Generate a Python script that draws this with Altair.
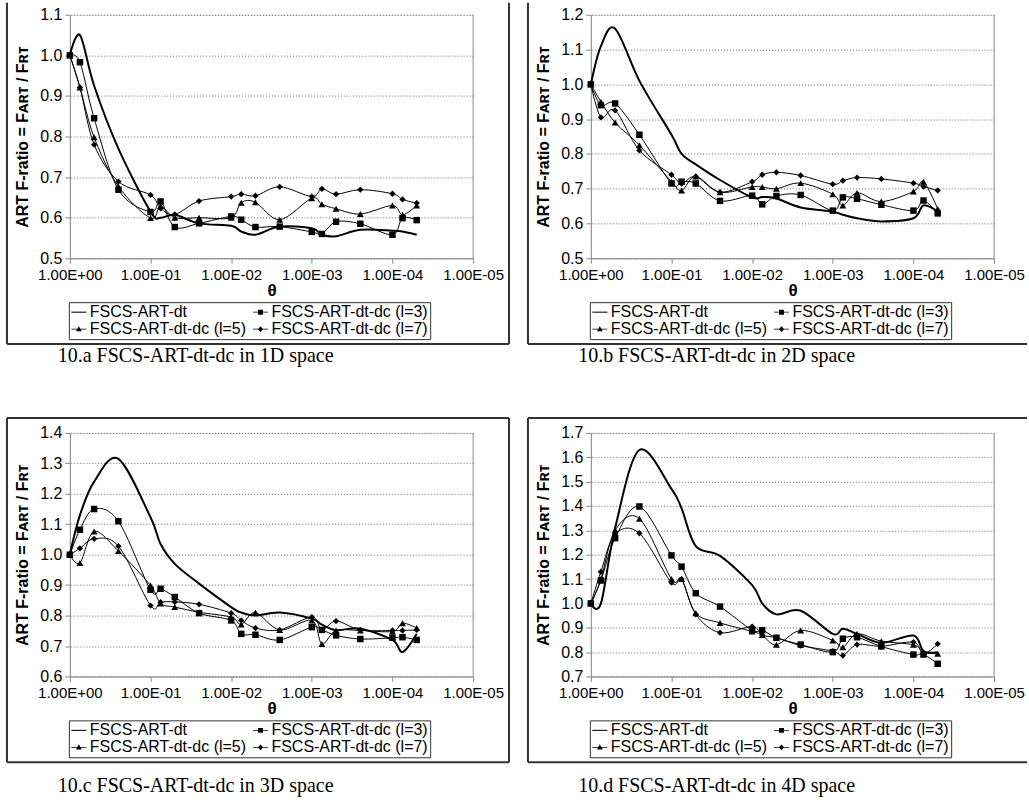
import altair as alt
import pandas as pd

FONT = "Liberation Sans"
SERIF = "Liberation Serif"

THETA = [1, 0.75, 0.5, 0.25, 0.1, 0.075, 0.05, 0.025, 0.01, 0.0075, 0.005,
         0.0025, 0.001, 0.00075, 0.0005, 0.00025, 0.0001, 0.000075, 0.00005]
SERIES = ["FSCS-ART-dt", "FSCS-ART-dt-dc (l=3)", "FSCS-ART-dt-dc (l=5)", "FSCS-ART-dt-dc (l=7)"]
X_TICKS = [1, 0.1, 0.01, 0.001, 0.0001, 0.00001]
X_TICK_LABELS = ["1.00E+00", "1.00E-01", "1.00E-02", "1.00E-03", "1.00E-04", "1.00E-05"]
Y_TITLE = "ART F-ratio = Fᴀʀᴛ / Fʀᴛ"
X_TITLE = "θ"

# 10.a  1D
A_DT = [1.0, 1.05, 0.925, 0.77, 0.615, 0.60, 0.607, 0.586, 0.58, 0.566, 0.558, 0.578, 0.574, 0.558, 0.554, 0.57, 0.568, 0.566, 0.558]
A_L3 = [1.0, 0.983, 0.845, 0.669, 0.614, 0.64, 0.577, 0.586, 0.603, 0.595, 0.577, 0.578, 0.565, 0.56, 0.59, 0.585, 0.558, 0.599, 0.594]
A_L5 = [1.0, 0.921, 0.798, 0.677, 0.599, 0.628, 0.60, 0.60, 0.60, 0.637, 0.638, 0.595, 0.648, 0.633, 0.622, 0.609, 0.63, 0.607, 0.63]
A_L7 = [1.0, 0.921, 0.78, 0.689, 0.656, 0.623, 0.608, 0.641, 0.652, 0.658, 0.654, 0.676, 0.652, 0.671, 0.658, 0.669, 0.659, 0.645, 0.636]
A_YTICKS = [0.5, 0.6, 0.7, 0.8, 0.9, 1.0, 1.1]

# 10.b  2D
B_DT = [1.0, 1.11, 1.16, 1.01, 0.855, 0.80, 0.77, 0.725, 0.675, 0.676, 0.672, 0.646, 0.634, 0.625, 0.615, 0.606, 0.615, 0.652, 0.634]
B_L3 = [1.0, 0.94, 0.945, 0.855, 0.715, 0.72, 0.715, 0.665, 0.68, 0.655, 0.679, 0.682, 0.637, 0.675, 0.671, 0.654, 0.637, 0.666, 0.629]
B_L5 = [1.0, 0.95, 0.89, 0.825, 0.72, 0.695, 0.735, 0.69, 0.705, 0.705, 0.70, 0.716, 0.684, 0.652, 0.688, 0.663, 0.692, 0.72, 0.642]
B_L7 = [1.0, 0.905, 0.925, 0.81, 0.74, 0.715, 0.735, 0.69, 0.72, 0.74, 0.747, 0.738, 0.713, 0.723, 0.732, 0.728, 0.716, 0.706, 0.695]
B_YTICKS = [0.5, 0.6, 0.7, 0.8, 0.9, 1.0, 1.1, 1.2]

# 10.c  3D
C_DT = [1.0, 1.13, 1.24, 1.315, 1.123, 1.035, 0.97, 0.905, 0.828, 0.81, 0.80, 0.81, 0.79, 0.77, 0.752, 0.757, 0.72, 0.68, 0.74]
C_L3 = [1.0, 1.082, 1.15, 1.11, 0.885, 0.888, 0.861, 0.808, 0.784, 0.74, 0.737, 0.72, 0.762, 0.753, 0.735, 0.723, 0.727, 0.729, 0.72]
C_L5 = [1.0, 0.973, 1.076, 1.012, 0.899, 0.84, 0.828, 0.811, 0.795, 0.771, 0.81, 0.753, 0.784, 0.707, 0.751, 0.751, 0.748, 0.775, 0.759]
C_L7 = [1.0, 1.021, 1.052, 1.028, 0.833, 0.844, 0.845, 0.837, 0.808, 0.784, 0.759, 0.753, 0.795, 0.753, 0.782, 0.753, 0.751, 0.751, 0.753]
C_YTICKS = [0.6, 0.7, 0.8, 0.9, 1.0, 1.1, 1.2, 1.3, 1.4]

# 10.d  4D
D_DT = [1.0, 1.0, 1.31, 1.63, 1.47, 1.39, 1.235, 1.195, 1.075, 1.0, 0.955, 0.97, 0.875, 0.896, 0.875, 0.838, 0.868, 0.804, 0.80]
D_L3 = [1.0, 1.094, 1.268, 1.398, 1.197, 1.151, 1.042, 0.987, 0.89, 0.89, 0.859, 0.831, 0.80, 0.855, 0.861, 0.823, 0.79, 0.79, 0.752]
D_L5 = [1.0, 1.10, 1.30, 1.348, 1.10, 1.10, 0.96, 0.92, 0.885, 0.87, 0.83, 0.889, 0.848, 0.82, 0.875, 0.845, 0.83, 0.80, 0.793]
D_L7 = [1.0, 1.13, 1.285, 1.288, 1.085, 1.10, 0.955, 0.88, 0.905, 0.87, 0.859, 0.827, 0.804, 0.786, 0.831, 0.824, 0.841, 0.793, 0.834]
D_YTICKS = [0.7, 0.8, 0.9, 1.0, 1.1, 1.2, 1.3, 1.4, 1.5, 1.6, 1.7]

PANELS = [
    ("10.a FSCS-ART-dt-dc in 1D space", [A_DT, A_L3, A_L5, A_L7], A_YTICKS),
    ("10.b FSCS-ART-dt-dc in 2D space", [B_DT, B_L3, B_L5, B_L7], B_YTICKS),
    ("10.c FSCS-ART-dt-dc in 3D space", [C_DT, C_L3, C_L5, C_L7], C_YTICKS),
    ("10.d FSCS-ART-dt-dc in 4D space", [D_DT, D_L3, D_L5, D_L7], D_YTICKS),
]

# legend glyphs: a short bar (the line) plus the marker, all drawn as filled paths
LEGEND_SYMBOLS = [
    "M-1,-0.07H1V0.07H-1Z",
    "M-1,-0.045H1V0.045H-1ZM-0.33,-0.33H0.33V0.33H-0.33Z",
    "M-1,-0.045H1V0.045H-1ZM0,-0.4L0.38,0.28H-0.38Z",
    "M-1,-0.045H1V0.045H-1ZM0,-0.38L0.36,0L0,0.38L-0.36,0Z",
]
MARKERS = [("square", 42), ("triangle-up", 48), ("diamond", 40)]

W, H = 404, 244
LABEL_EXPR = "[" + ",".join("'%s'" % s for s in X_TICK_LABELS) + "][round(-log(datum.value)/LN10)]"


def panel(idx, caption, values, yticks):
    is_top = idx < 2
    is_left = idx % 2 == 0
    rows = []
    for s, vals in zip(SERIES, values):
        for t, v in zip(THETA, vals):
            rows.append({"theta": t, "value": v, "series": s})
    df = pd.DataFrame(rows)
    base = alt.Chart(df)
    one = alt.Chart(pd.DataFrame({"k": [0]}))

    x = alt.X("theta:Q", scale=alt.Scale(type="log", domain=[0.00001, 1], reverse=True),
              axis=alt.Axis(values=X_TICKS, labelExpr=LABEL_EXPR, title=X_TITLE, grid=False,
                            labelFontSize=15, titleFontSize=17, titleFontWeight="bold",
                            titlePadding=0, labelPadding=4, tickSize=5, labelFlush=False,
                            labelOverlap=False))
    y = alt.Y("value:Q", scale=alt.Scale(domain=[yticks[0], yticks[-1]], nice=False, zero=False),
              axis=alt.Axis(values=yticks, format=".1f", title=Y_TITLE, grid=True,
                            gridDash=[1, 2], gridColor="#666", gridWidth=1,
                            labelFontSize=16, titleFontSize=16, titleFontWeight="bold",
                            titlePadding=9, labelPadding=3, tickSize=5))

    layers = []
    fr = dict(color="#333", strokeWidth=2)
    top = -12 if is_top else -15
    bottom = 330
    left = -63
    right = 440 if is_left else 437
    layers.append(one.mark_rule(**fr).encode(x=alt.value(left), y=alt.value(top), y2=alt.value(bottom)))
    layers.append(one.mark_rule(**fr).encode(x=alt.value(left), x2=alt.value(right), y=alt.value(bottom)))
    if not is_top:
        layers.append(one.mark_rule(**fr).encode(x=alt.value(left), x2=alt.value(right), y=alt.value(top)))
    if is_left:
        layers.append(one.mark_rule(**fr).encode(x=alt.value(right), y=alt.value(top), y2=alt.value(bottom)))
    layers.append(one.mark_rule(color="#999", strokeWidth=1).encode(
        x=alt.value(W), y=alt.value(0), y2=alt.value(H)))

    layers.append(base.transform_filter(alt.datum.series != SERIES[0]).mark_line(
        interpolate="cardinal", color="black", strokeWidth=1).encode(x=x, y=y, detail="series:N"))
    layers.append(base.transform_filter(alt.datum.series == SERIES[0]).mark_line(
        interpolate="cardinal", color="black", strokeWidth=2).encode(x=x, y=y))
    for s, (shape, size) in zip(SERIES[1:], MARKERS):
        layers.append(base.transform_filter(alt.datum.series == s).mark_point(
            shape=shape, filled=True, color="black", size=size, opacity=1).encode(x=x, y=y))

    legend = alt.Legend(orient="none", legendX=-1, legendY=288, columns=2, direction="horizontal",
                        title=None,
                        labelFont=FONT, labelFontSize=16, labelColor="black", labelLimit=400,
                        symbolSize=225, symbolStrokeWidth=0, symbolFillColor="black",
                        symbolOpacity=1, strokeColor="#333",
                        padding=2, rowPadding=1, columnPadding=6, labelOffset=3)
    layers.append(base.transform_filter("false").mark_point(
        filled=True, color="black", opacity=1).encode(
        x=x, y=y,
        shape=alt.Shape("series:N", scale=alt.Scale(domain=SERIES, range=LEGEND_SYMBOLS), legend=legend)))

    layers.append(one.mark_text(font=SERIF, fontSize=20, color="black").encode(
        x=alt.value(126), y=alt.value(342 if is_top else 354), text=alt.value(caption)))

    return alt.layer(*layers).properties(width=W, height=H)


charts = [panel(i, c, v, t) for i, (c, v, t) in enumerate(PANELS)]

chart = alt.concat(*charts, columns=2, spacing={"row": 175, "column": 118}, bounds="flush").resolve_scale(
    x="independent", y="independent", shape="independent").resolve_legend(shape="independent").properties(
    padding={"left": 5, "top": 0, "right": 0, "bottom": 0}
).configure_view(stroke=None).configure_axis(
    labelFont=FONT, titleFont=FONT, labelColor="black", titleColor="black",
    domainColor="black", tickColor="black", domainWidth=1, tickWidth=1
).configure(background="white")

chart.save("out.html", embed_options={"renderer": "svg", "actions": False})
